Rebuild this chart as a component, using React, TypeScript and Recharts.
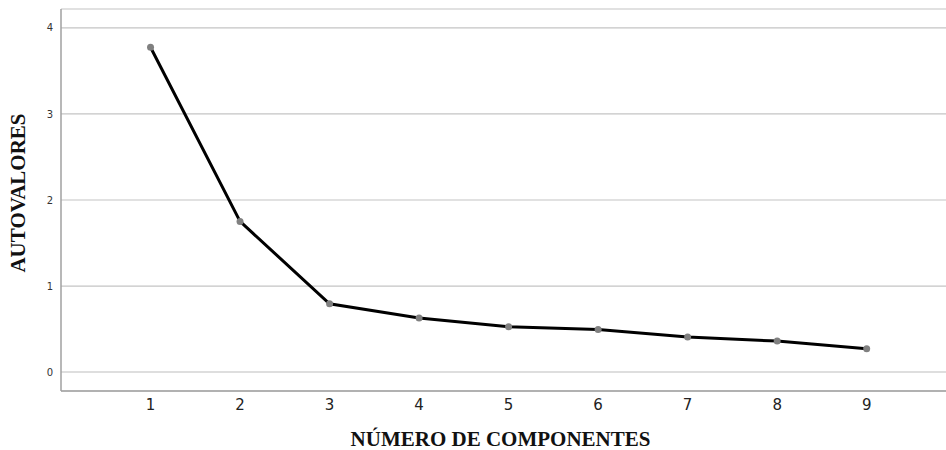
import React from 'react';
import {
  LineChart,
  Line,
  XAxis,
  YAxis,
  CartesianGrid,
  ReferenceLine,
  Label,
} from 'recharts';

// Gráfico de sedimentación: autovalores por número de componente
const componentes = [1, 2, 3, 4, 5, 6, 7, 8, 9];
const autovalores = [3.775, 1.751, 0.794, 0.628, 0.527, 0.495, 0.407, 0.36, 0.271];
const yTicks = [0, 1, 2, 3, 4];
const xTicks = [1, 2, 3, 4, 5, 6, 7, 8, 9];

const data = componentes.map((c, i) => ({ componente: c, valor: autovalores[i] }));

const titleStyle = {
  fontFamily: '"Liberation Serif", "Times New Roman", serif',
  fontWeight: 700,
  fontSize: 21,
  fill: '#111',
};

export default function App() {
  return (
    <div style={{ position: 'absolute', left: 0, top: 0, width: 946, height: 450, background: '#fff' }}>
      <LineChart
        width={946}
        height={450}
        data={data}
        margin={{ top: 9, right: 0, bottom: 0, left: 0 }}
      >
        <CartesianGrid vertical={false} stroke="#c4c4c4" strokeWidth={1.2} />
        <ReferenceLine y={0} stroke="#dedede" strokeWidth={2} />
        <XAxis
          dataKey="componente"
          type="number"
          domain={[0, 9.886]}
          ticks={xTicks}
          allowDataOverflow
          axisLine={{ stroke: '#a0a0a0', strokeWidth: 1.5 }}
          tickLine={false}
          tickSize={0}
          tickMargin={8}
          height={59}
          tick={{ fill: '#222', fontSize: 15, fontFamily: '"DejaVu Sans", sans-serif' }}
        >
          <Label
            content={({ viewBox }: any) => (
              <text
                x={viewBox.x + viewBox.width / 2 - 3}
                y={446}
                textAnchor="middle"
                style={titleStyle}
              >
                NÚMERO DE COMPONENTES
              </text>
            )}
          />
        </XAxis>
        <YAxis
          type="number"
          domain={[-0.22, 4.22]}
          ticks={yTicks}
          allowDataOverflow
          width={61}
          axisLine={{ stroke: '#a0a0a0', strokeWidth: 1.5 }}
          tickLine={false}
          tickSize={0}
          tickMargin={8}
          tick={{ fill: '#333', fontSize: 10, fontFamily: '"DejaVu Sans", sans-serif' }}
        >
          <Label
            content={() => (
              <text
                x={0}
                y={0}
                transform={`translate(25, 193) rotate(-90)`}
                textAnchor="middle"
                style={titleStyle}
              >
                AUTOVALORES
              </text>
            )}
          />
        </YAxis>
        <Line
          dataKey="valor"
          stroke="#000"
          strokeWidth={3}
          dot={{ r: 3.5, fill: '#808080', stroke: '#808080', strokeWidth: 0 }}
          activeDot={false}
          isAnimationActive={false}
        />
      </LineChart>
    </div>
  );
}
